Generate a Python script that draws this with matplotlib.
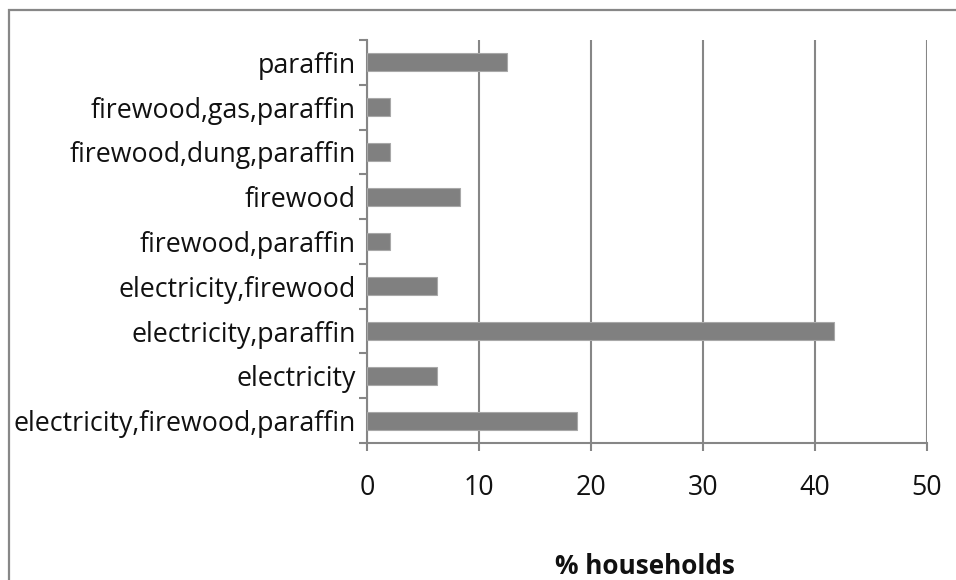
import matplotlib
matplotlib.use("Agg")
import matplotlib.pyplot as plt
from matplotlib.patches import Rectangle
import numpy as np

categories = [
    "electricity,firewood,paraffin",
    "electricity",
    "electricity,paraffin",
    "electricity,firewood",
    "firewood,paraffin",
    "firewood",
    "firewood,dung,paraffin",
    "firewood,gas,paraffin",
    "paraffin",
]
values = [18.75, 6.25, 41.67, 6.25, 2.08, 8.33, 2.08, 2.08, 12.5]
x_ticks = [0, 10, 20, 30, 40, 50]
x_label = "% households"

plt.rcParams['font.family'] = ['Open Sans', 'DejaVu Sans']
FS = 19.3

W, H = 956, 580
fig = plt.figure(figsize=(W / 100, H / 100), dpi=100)
fig.patch.set_facecolor('white')

# outer chart frame (left/top visible)
fig.patches.append(Rectangle((8.5 / W, -0.1), 1.2, 1.1 - 10.5 / H,
                             transform=fig.transFigure, fill=False,
                             edgecolor='#878787', linewidth=1.6, zorder=0))

ax = fig.add_axes([367 / W, 1 - 443 / H, (927 - 367) / W, (443 - 40) / H])
grid_c = '#868686'
y = np.arange(len(categories))
ax.barh(y, values, height=0.4, color='#808080', edgecolor='#a8a8a8',
        linewidth=0.8, zorder=3)

ax.set_xlim(0, 50)
ax.set_ylim(-0.5, len(categories) - 0.5)
ax.set_xticks(x_ticks)
ax.set_xticklabels([str(t) for t in x_ticks])
ax.xaxis.grid(True, color=grid_c, linewidth=1.5, zorder=1)
ax.set_axisbelow(True)

# category boundary ticks (major) and labels (minor)
ax.set_yticks(np.arange(-0.5, len(categories), 1.0))
ax.set_yticklabels([])
ax.set_yticks(y, minor=True)
ax.set_yticklabels(categories, minor=True, color='#111111')
ax.tick_params(axis='y', which='major', length=6, width=1.5, color=grid_c,
               direction='out')
ax.tick_params(axis='y', which='minor', length=0, pad=8, labelsize=FS)
ax.tick_params(axis='x', which='major', length=6, width=1.5, color=grid_c,
               direction='out', pad=16.5, labelsize=FS, labelcolor='#111111')

for s in ['top', 'right']:
    ax.spines[s].set_visible(False)
for s in ['left', 'bottom']:
    ax.spines[s].set_color(grid_c)
    ax.spines[s].set_linewidth(1.5)

fig.text(645 / W, 1 - 567 / H, x_label, ha='center', va='center',
         fontsize=FS - 0.5, fontweight='bold', color='#111111')

fig.savefig('out.png', dpi=100, facecolor='white')
